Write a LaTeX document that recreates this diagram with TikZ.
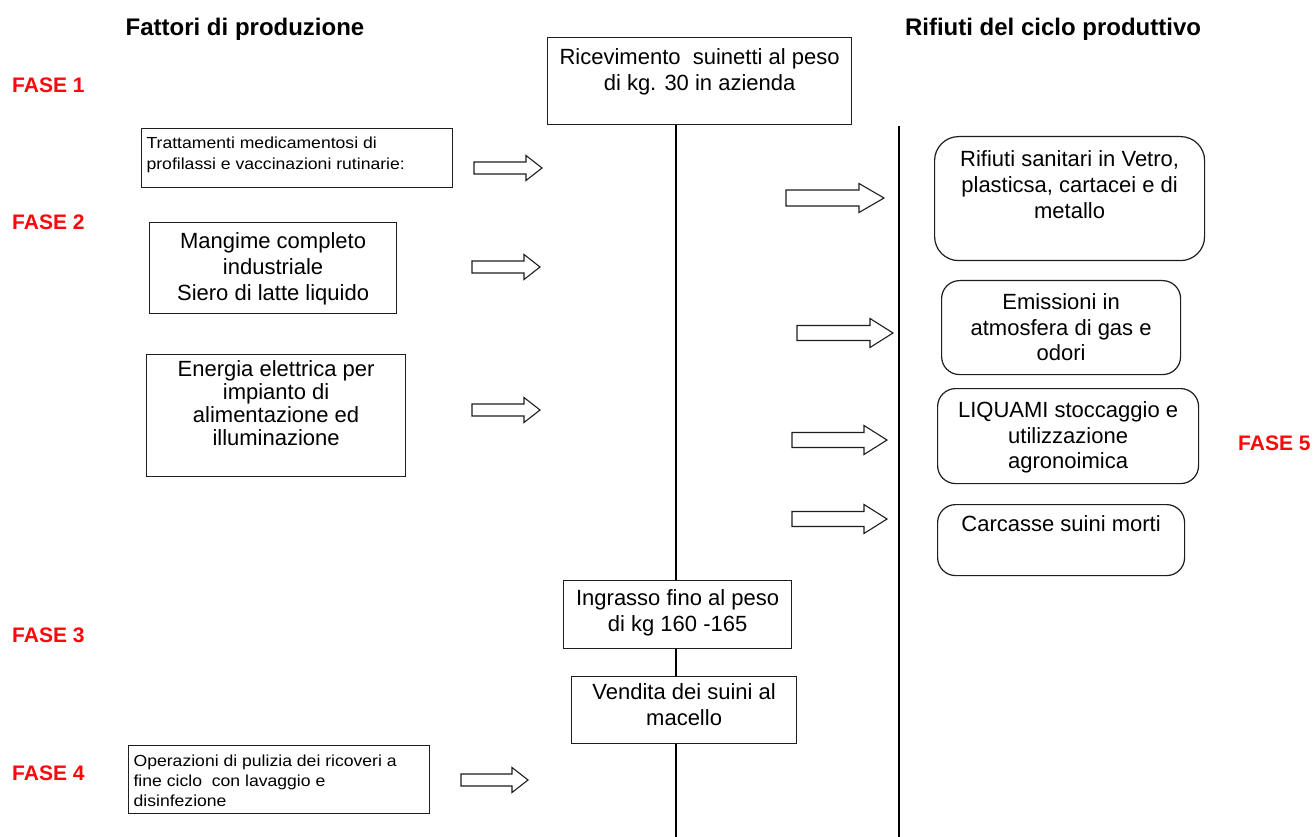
\documentclass[tikz,border=0pt]{standalone}
\usepackage{fontspec}
\setmainfont{Liberation Sans}
\newfontfamily\smallf[FakeStretch=1.1]{Liberation Sans}
\definecolor{faseRed}{RGB}{250,8,12}
\definecolor{lineGray}{RGB}{30,30,30}
\newcommand{\ctext}[4]{\parbox[t][#2pt][t]{#1pt}{\vspace*{#3pt}\centering #4\par}}
\newcommand{\ltext}[4]{\parbox[t][#2pt][t]{#1pt}{\vspace*{#3pt}\raggedright\leftskip=5pt #4\par}}
\newcommand{\bigtxt}{\fontsize{22}{26}\selectfont}
\newcommand{\smltxt}{\fontsize{16}{21}\smallf}
\newcommand{\blk}[6]{%
  \draw[barrow] (#1,{#3-#4}) -- ({#2-#6},{#3-#4}) -- ({#2-#6},{#3-#5}) -- (#2,#3)
    -- ({#2-#6},{#3+#5}) -- ({#2-#6},{#3+#4}) -- (#1,{#3+#4}) -- cycle;}
\begin{document}
\begin{tikzpicture}[x=1pt,y=-1pt,
  box/.style={draw=lineGray, line width=1.2pt, inner sep=0pt, anchor=north west, fill=white},
  rbox/.style={box, rounded corners=18pt},
  vline/.style={draw=black, line width=1.8pt},
  barrow/.style={draw=lineGray, line width=1.1pt, fill=white, line join=miter},
  head/.style={font=\bfseries\fontsize{24}{28}\selectfont, inner sep=0pt, anchor=base},
  fase/.style={font=\bfseries\fontsize{21}{24}\selectfont, text=faseRed, inner sep=0pt, anchor=base west}]
\useasboundingbox[fill=white] (0,0) rectangle (1315,837);

% headers
\node[head] (hleft) at (245,36) {Fattori di produzione};
\node[head] (hright) at (1053,36) {Rifiuti del ciclo produttivo};

% phase labels
\node[fase] (f1) at (12,93) {FASE 1};
\node[fase] (f2) at (12,230) {FASE 2};
\node[fase] (f3) at (12,642) {FASE 3};
\node[fase] (f4) at (12,780) {FASE 4};
\node[fase] (f5) at (1238,450) {FASE 5};

% coordinates for the vertical lines
\coordinate (cx) at (676,0);
\coordinate (cbot) at (676,837);
\coordinate (rtop) at (899,126);
\coordinate (rbot) at (899,837);

% central boxes
\node[box] (ric) at (547,37) {\ctext{304}{87}{11}{\bigtxt Ricevimento\ \ suinetti al peso\\ di kg. 30 in azienda}};
\node[box] (ing) at (563,580) {\ctext{228}{68}{9}{\bigtxt Ingrasso fino al peso\\ di kg 160 -165}};
\node[box] (ven) at (571,676) {\ctext{225}{67}{7}{\bigtxt Vendita dei suini al\\ macello}};

% vertical lines
\draw[vline] (ric.south -| cx) -- (ing.north -| cx);
\draw[vline] (ing.south -| cx) -- (ven.north -| cx);
\draw[vline] (ven.south -| cx) -- (cbot);
\draw[vline] (rtop) -- (rbot);

% left boxes (factors)
\node[box] (trat) at (141,128) {\ltext{311}{59}{8}{\smltxt Trattamenti medicamentosi di\\ profilassi e vaccinazioni rutinarie:}};
\node[box] (mang) at (149,222) {\ctext{247}{91}{10}{\bigtxt Mangime completo\\ industriale\\ Siero di latte liquido}};
\node[box] (ener) at (146,354) {\ctext{259}{122}{6}{\fontsize{22}{23}\selectfont Energia elettrica per\\ impianto di\\ alimentazione ed\\ illuminazione}};
\node[box] (oper) at (128,745) {\ltext{301}{68}{9}{\fontsize{16}{20}\smallf Operazioni di pulizia dei ricoveri a\\ fine ciclo\ \ con lavaggio e\\ disinfezione}};

% right boxes (wastes)
\node[box, rounded corners=24pt] (sani) at (934,136) {\ctext{270}{124}{14}{\bigtxt Rifiuti sanitari in Vetro,\\ plasticsa, cartacei e di\\ metallo}};
\node[rbox] (emis) at (941,280) {\ctext{239}{94}{13}{\fontsize{22}{25.5}\selectfont Emissioni in\\ atmosfera di gas e\\ odori}};
\node[rbox] (liq) at (937,388) {\ctext{261}{95}{13}{\fontsize{22}{25.5}\selectfont LIQUAMI stoccaggio e\\ utilizzazione\\ agronoimica}};
\node[rbox] (carc) at (937,504) {\ctext{247}{71}{11}{\bigtxt Carcasse suini morti}};

% block arrows: x1, x2, y, shaft half, head half, head length
\blk{474}{542}{168}{6}{12.5}{16}
\blk{472}{540}{267}{6}{12.5}{16}
\blk{472}{540}{410}{6}{12.5}{16}
\blk{461}{528}{780}{6}{12.5}{16}
\blk{786}{884}{198}{8}{14.5}{25}
\blk{797}{893}{333}{7.5}{14.5}{23}
\blk{792}{887}{440}{7.5}{14.5}{23}
\blk{792}{887}{519}{7.5}{14.5}{23}
\end{tikzpicture}
\end{document}
